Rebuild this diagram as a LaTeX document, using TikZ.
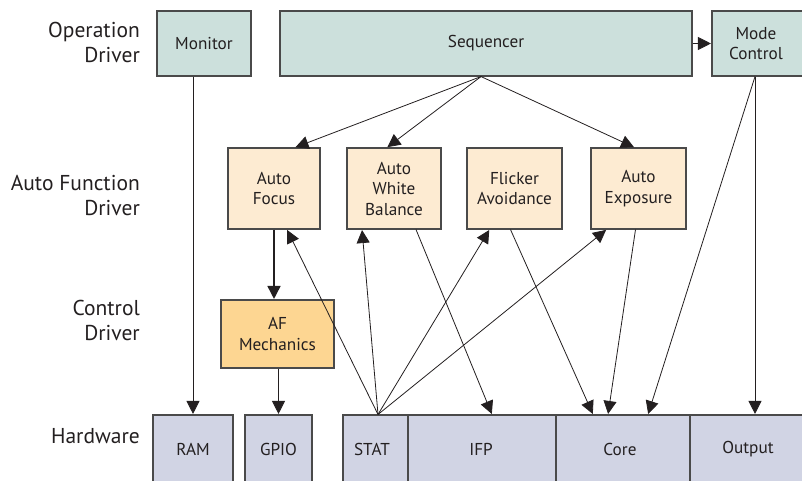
\documentclass[tikz,border=0pt]{standalone}
\usepackage{fontspec}
\setmainfont{PT Sans}
\usetikzlibrary{arrows.meta,calc}
\definecolor{opfill}{HTML}{CCE0DC}
\definecolor{autofill}{HTML}{FDEBD2}
\definecolor{ctrlfill}{HTML}{FDD692}
\definecolor{hwfill}{HTML}{D1D4E4}
\definecolor{edge}{HTML}{4A4A4A}
\definecolor{ink}{HTML}{231F20}
\tikzset{
  boxfont/.style={font=\fontsize{17.2}{20.5}\selectfont, text=ink},
  blk/.style={draw=edge, line width=1.1pt, inner sep=0pt, align=center, boxfont},
  opbox/.style={blk, fill=opfill},
  autobox/.style={blk, fill=autofill},
  ctrlbox/.style={blk, fill=ctrlfill},
  hwbox/.style={blk, fill=hwfill},
  rowlabel/.style={anchor=east, align=right, inner sep=0pt,
    font=\fontsize{21.5}{25}\selectfont, text=ink},
  arr/.style={draw=ink, line width=0.8pt,
    -{Triangle[length=13pt,width=13pt]}, shorten >=0.5pt},
  thickarr/.style={arr, line width=1.6pt}
}
\begin{document}
\begin{tikzpicture}[x=1pt,y=-1pt]
\useasboundingbox (0,0) rectangle (802,480);

% row labels
\node[rowlabel] (l1) at (140,42) {Operation\\Driver};
\node[rowlabel] (l2) at (140,195) {Auto Function\\Driver};
\node[rowlabel] (l3) at (140,320) {Control\\Driver};
\node[rowlabel] (l4) at (140,436) {Hardware};

% operation driver
\node[opbox, minimum width=94pt, minimum height=65pt] (mon) at (204,43.5) {Monitor};
\node[opbox, minimum width=412pt, minimum height=65pt] (seq) at (486,43.5) {Sequencer};
\node[opbox, minimum width=96pt, minimum height=65pt, text width=90pt] (mode) at (760,43.5) {\hspace*{-8pt}Mode\\\hspace*{-8pt}Control};

% auto function driver
\node[autobox, minimum width=92pt, minimum height=81pt] (af) at (274,188.5) {Auto\\Focus};
\node[autobox, minimum width=94pt, minimum height=81pt] (awb) at (394,188.5) {Auto\\White\\Balance};
\node[autobox, minimum width=95pt, minimum height=81pt] (fa) at (514.5,188.5) {Flicker\\Avoidance};
\node[autobox, minimum width=95pt, minimum height=81pt] (ae) at (638.5,188.5) {Auto\\Exposure};

% control driver
\node[ctrlbox, minimum width=113pt, minimum height=68pt] (afm) at (277.5,334) {AF\\Mechanics};

% hardware
\node[hwbox, minimum width=80pt, minimum height=80pt] (ram) at (193,455) {};
\node[hwbox, minimum width=67pt, minimum height=80pt] (gpio) at (278.5,455) {};
\node[hwbox, minimum width=65pt, minimum height=80pt] (stat) at (375.5,455) {};
\node[hwbox, minimum width=148pt, minimum height=80pt] (ifp) at (482,455) {};
\node[hwbox, minimum width=134pt, minimum height=80pt] (core) at (623,455) {};
\node[hwbox, minimum width=120pt, minimum height=80pt] (out) at (750,455) {};
\node[boxfont] (tram) at (ram.center |- 0,449) {RAM};
\node[boxfont] (tgpio) at (gpio.center |- 0,449) {GPIO};
\node[boxfont] (tstat) at (372,449) {STAT};
\node[boxfont] (tifp) at (481,449) {IFP};
\node[boxfont] (tcore) at (620,449) {Core};
\node[boxfont] (tout) at (748,449) {Output};

% sequencer fan-out
\coordinate (sqs) at ($(seq.south)+(-5,0)$);
\draw[arr] (sqs) -- ($(af.north)+(21,0)$);
\draw[arr] (sqs) -- ($(awb.north)+(-7,0)$);
\draw[arr] (sqs) -- ($(ae.north)+(-4,0)$);
\draw[arr] (seq.east) -- (mode.west);

% monitor and mode control to hardware
\draw[arr] (ram.north |- mon.south) -- (ram.north);
\coordinate (mcs) at ($(mode.south)+(-5,0)$);
\draw[arr] (mcs) -- (out.north -| mcs);
\draw[arr] (mcs) -- ($(core.north)+(25,0)$);

% auto focus chain
\draw[thickarr] (af.south) -- (afm.north -| af.south);
\draw[arr] (gpio.north |- afm.south) -- (gpio.north);

% statistics feedback
\coordinate (sts) at ($(stat.north)+(2.5,0)$);
\draw[arr] (sts) -- ($(af.south)+(13,0)$);
\draw[arr] (sts) -- ($(awb.south)+(-32,0)$);
\draw[arr] (sts) -- ($(fa.south)+(-25,0)$);
\draw[arr] (sts) -- ($(ae.south)+(-32,0)$);

% auto functions to hardware
\draw[arr] ($(awb.south)+(22,0)$) -- ($(ifp.north)+(10,0)$);
\draw[arr] ($(fa.south)+(-4,0)$) -- ($(core.north)+(-30,0)$);
\draw[arr] ($(ae.south)+(-3,0)$) -- ($(core.north)+(-15,0)$);
\end{tikzpicture}
\end{document}
